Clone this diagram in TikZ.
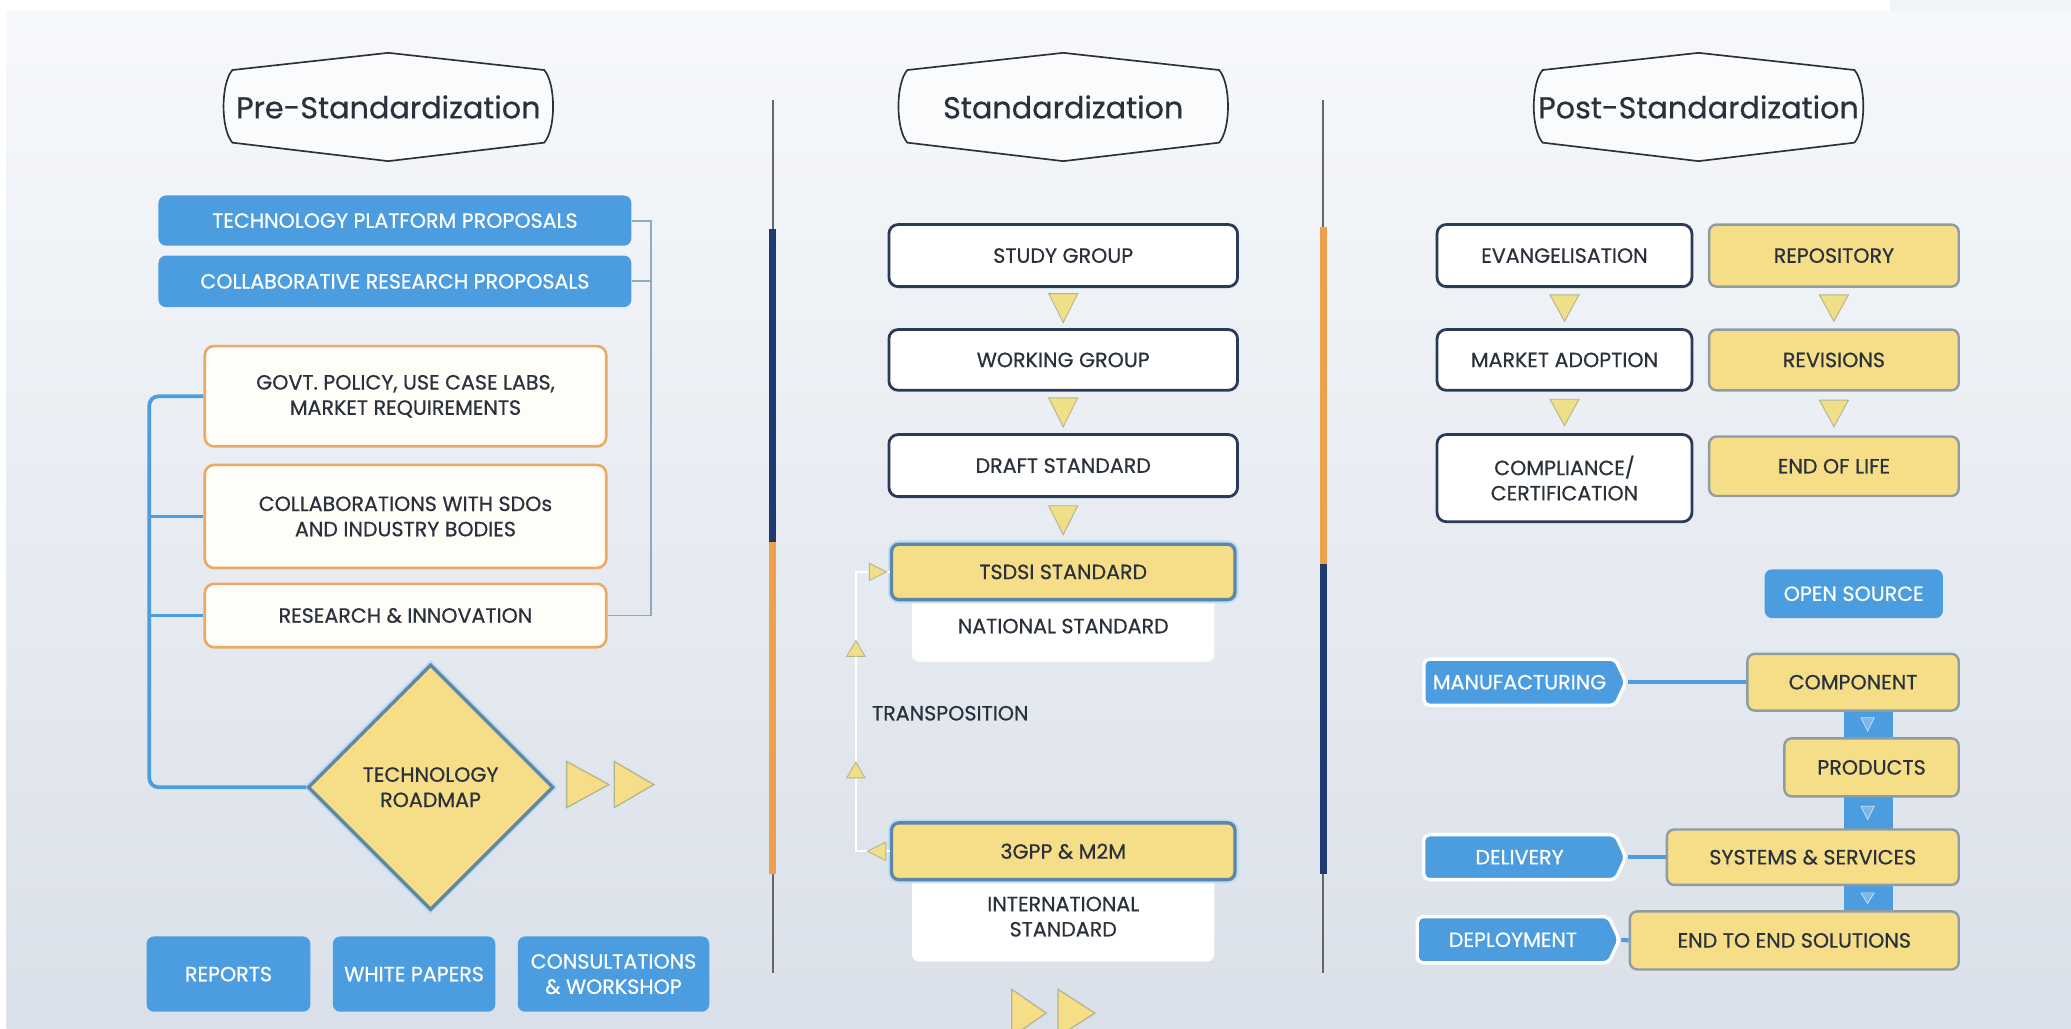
\documentclass[tikz,border=0pt]{standalone}
\usepackage{fontspec}
\setmainfont{Poppins}[FakeBold=0.6]
\usetikzlibrary{calc,shapes.geometric,shapes.symbols}
\definecolor{bgtop}{HTML}{F6F8FB}
\definecolor{bgbot}{HTML}{DAE0E9}
\definecolor{boxblue}{HTML}{4B9DE0}
\definecolor{boxyellow}{HTML}{F6DD88}
\definecolor{navy}{HTML}{1E3A70}
\definecolor{bordnavy}{HTML}{2B3A57}
\definecolor{orangeln}{HTML}{EFA04C}
\definecolor{orangebord}{HTML}{EAA965}
\definecolor{cream}{HTML}{FFFDF8}
\definecolor{graybord}{HTML}{8E9DA2}
\definecolor{steelbord}{HTML}{5C87A9}
\definecolor{glow}{HTML}{BFDDF3}
\definecolor{txt}{HTML}{2A313C}
\definecolor{triyellow}{HTML}{EEDF88}
\definecolor{triedge}{HTML}{B5B58E}
\definecolor{faintblue}{HTML}{7DB6E8}
\def\pu{0.025cm}
\newcommand\boxfont{\fontsize{11.1}{13.6}\selectfont}
\newcommand\headfont{\fontsize{16.3}{19}\selectfont}
% little triangles: style, centre, half width, half height
\newcommand\tridown[4]{\filldraw[#1] ($(#2)+(-#3,-#4)$) -- ($(#2)+(#3,-#4)$) -- ($(#2)+(0,#4)$) -- cycle;}
\newcommand\triup[4]{\filldraw[#1] ($(#2)+(-#3,#4)$) -- ($(#2)+(#3,#4)$) -- ($(#2)+(0,-#4)$) -- cycle;}
\newcommand\triright[4]{\filldraw[#1] ($(#2)+(-#3,-#4)$) -- ($(#2)+(#3,0)$) -- ($(#2)+(-#3,#4)$) -- cycle;}
\newcommand\trileft[4]{\filldraw[#1] ($(#2)+(#3,-#4)$) -- ($(#2)+(-#3,0)$) -- ($(#2)+(#3,#4)$) -- cycle;}
\newcommand\headshape[1]{\filldraw[headline] ($(#1)+(-118,-28)$) -- ($(#1)+(0,-41)$) -- ($(#1)+(118,-28)$)
  .. controls ($(#1)+(127,-18)$) and ($(#1)+(127,17)$) .. ($(#1)+(118,27)$) -- ($(#1)+(0,41)$) -- ($(#1)+(-118,27)$)
  .. controls ($(#1)+(-127,17)$) and ($(#1)+(-127,-18)$) .. cycle;}

\begin{document}
\begin{tikzpicture}[x=\pu, y=-\pu,
    every node/.style={font=\boxfont, text=txt, inner sep=0pt},
    wh/.style 2 args={minimum width=#1*\pu, minimum height=#2*\pu},
    bluebox/.style={rectangle, rounded corners=4pt, fill=boxblue, text=white, align=center},
    navybox/.style={rectangle, rounded corners=5pt, draw=bordnavy, line width=1.5pt, fill=white, align=center},
    orangebox/.style={rectangle, rounded corners=5pt, draw=orangebord, line width=1.4pt, fill=cream, align=center},
    yellowbox/.style={rectangle, rounded corners=4pt, draw=graybord, line width=1.3pt, fill=boxyellow},
    steelbox/.style={rectangle, rounded corners=4pt, draw=steelbord, line width=1.8pt, fill=boxyellow, preaction={draw=glow, line width=4pt}},
    plainbox/.style={rectangle, rounded corners=4pt, fill=white, align=center},
    tagbox/.style={signal, signal to=east, signal pointer angle=130, rounded corners=3pt, fill=boxblue, draw=white, line width=1.8pt, text=white},
    headline/.style={draw=txt, line width=0.9pt, fill=white, fill opacity=0.6, draw opacity=1},
    thinline/.style={draw=black!60, line width=1.1pt},
    navyline/.style={draw=navy, line width=3.6pt},
    orangeline/.style={draw=orangeln, line width=3.6pt},
    brleft/.style={draw=boxblue, line width=2pt, rounded corners=5pt},
    brright/.style={draw=steelbord!70, line width=1pt},
    transline/.style={draw=white, line width=0.9pt},
    tagline/.style={draw=boxblue, line width=2.2pt},
    tri/.style={fill=triyellow, draw=triedge, line width=0.5pt},
    playtri/.style={fill=boxyellow, draw=triedge, line width=0.7pt},
    fainttri/.style={fill=faintblue, draw=white!70!boxblue, line width=0.4pt}
  ]
  %%%%% BACKGROUND %%%%%
  \useasboundingbox (0,0) rectangle (1568,779);
  \fill[white] (0,0) rectangle (1568,779);
  \shade[top color=bgtop, bottom color=bgbot] (5,8) rectangle (1568,779);
  \fill[bgtop!80!bgbot] (1431,0) rectangle (1568,8);

  %%%%% DIVIDERS %%%%%
  \draw[thinline] (585,76) -- (585,173);
  \draw[navyline] (585,173) -- (585,410);
  \draw[orangeline] (585,410) -- (585,662);
  \draw[thinline] (585,662) -- (585,737);

  \draw[thinline] (1002,76) -- (1002,172);
  \draw[orangeline] (1002,172) -- (1002,427);
  \draw[navyline] (1002,427) -- (1002,662);
  \draw[thinline] (1002,662) -- (1002,737);

  %%%%% HEADERS %%%%%
  \coordinate (prec) at (294,81);
  \coordinate (stdc) at (805,81);
  \coordinate (postc) at (1286,81);
  \headshape{prec}
  \headshape{stdc}
  \headshape{postc}
  \node[font=\headfont] (prehead) at (prec) {Pre-Standardization};
  \node[font=\headfont] (stdhead) at (stdc) {Standardization};
  \node[font=\headfont] (posthead) at (postc) {Post-Standardization};

  %%%%% PRE-STANDARDIZATION %%%%%
  \node[bluebox, wh={358}{38}] (tpp) at (299,167) {TECHNOLOGY PLATFORM PROPOSALS};
  \node[bluebox, wh={358}{39}] (crp) at (299,213) {COLLABORATIVE RESEARCH PROPOSALS};

  \node[orangebox, wh={304}{76}] (govt) at (307,300) {GOVT. POLICY, USE CASE LABS,\\MARKET REQUIREMENTS};
  \node[orangebox, wh={304}{78}] (collab) at (307,391) {COLLABORATIONS WITH SDOs\\AND INDUSTRY BODIES};
  \node[orangebox, wh={304}{48}] (resinn) at (307,466) {RESEARCH \& INNOVATION};

  \node[diamond, draw=steelbord, line width=1.8pt, fill=boxyellow, preaction={draw=glow, line width=4pt},
        wh={186}{186}, align=center] (roadmap) at (326,596) {TECHNOLOGY\\ROADMAP};

  \coordinate (brx) at (113,0);
  \coordinate (rbx) at (493,0);
  \draw[brleft] (govt.west) -- (govt.west -| brx) |- (roadmap.west);
  \draw[brleft] (collab.west) -- (collab.west -| brx);
  \draw[brleft] (resinn.west) -- (resinn.west -| brx);
  \draw[brright] (tpp.east) -- (tpp.east -| rbx) |- (resinn.east);
  \draw[brright] (crp.east) -- (crp.east -| rbx);

  \triright{playtri}{445,594}{16}{17.5}
  \triright{playtri}{480,594}{15}{17.5}

  \node[bluebox, wh={124}{57}] (reports) at (173,737.5) {REPORTS};
  \node[bluebox, wh={123}{57}] (wpapers) at (313.5,737.5) {WHITE PAPERS};
  \node[bluebox, wh={145}{57}] (consult) at (464.5,737.5) {CONSULTATIONS\\\& WORKSHOP};

  %%%%% STANDARDIZATION %%%%%
  \node[navybox, wh={264}{47}] (study) at (805,193.5) {STUDY GROUP};
  \node[navybox, wh={264}{46}] (work) at (805,272.5) {WORKING GROUP};
  \node[navybox, wh={264}{47}] (draft) at (805,352.5) {DRAFT STANDARD};

  \node[plainbox, wh={229}{54}] (natl) at (805,474) {\raisebox{-0.35ex}{NATIONAL STANDARD}};
  \node[steelbox, wh={260}{42}] (tsdsi) at (805,433) {TSDSI STANDARD};
  \node[plainbox, wh={229}{68}] (intl) at (805,694) {INTERNATIONAL\\STANDARD};
  \node[steelbox, wh={260}{43}] (gpp) at (805,644.5) {3GPP \& M2M};

  \tridown{tri}{$(study.south)!0.5!(work.north)$}{11}{11}
  \tridown{tri}{$(work.south)!0.5!(draft.north)$}{11}{11}
  \tridown{tri}{$(draft.south)!0.5!(tsdsi.north)$}{11}{11}

  \coordinate (tx) at (648,0);
  \draw[transline] (gpp.west) -- (gpp.west -| tx) -- (tsdsi.west -| tx) -- (tsdsi.west);
  \triright{tri}{$(tsdsi.west)+(-9,0)$}{6.5}{6.5}
  \trileft{tri}{$(gpp.west)+(-10,0)$}{7}{7}
  \triup{tri}{648,491}{7}{6}
  \triup{tri}{648,583}{7}{6}
  \node[anchor=west] (transp) at (660,540) {TRANSPOSITION};

  \triright{playtri}{779,767}{13}{18}
  \triright{playtri}{815,767}{14}{18}

  %%%%% POST-STANDARDIZATION %%%%%
  \node[navybox, wh={193}{47}] (evang) at (1184.5,193.5) {EVANGELISATION};
  \node[navybox, wh={193}{46}] (madopt) at (1184.5,272.5) {MARKET ADOPTION};
  \node[navybox, wh={193}{66}] (compl) at (1184.5,362) {COMPLIANCE/\\CERTIFICATION};

  \node[yellowbox, wh={189}{47}] (repo) at (1388.5,193.5) {REPOSITORY};
  \node[yellowbox, wh={189}{46}] (revis) at (1388.5,272.5) {REVISIONS};
  \node[yellowbox, wh={189}{45}] (eol) at (1388.5,353) {END OF LIFE};

  \tridown{tri}{$(evang.south)!0.5!(madopt.north)$}{11}{10}
  \tridown{tri}{$(madopt.south)!0.5!(compl.north)$}{11}{10}
  \tridown{tri}{$(repo.south)!0.5!(revis.north)$}{11}{10}
  \tridown{tri}{$(revis.south)!0.5!(eol.north)$}{11}{10}

  \node[bluebox, wh={135}{37}] (opensrc) at (1403.5,449.5) {OPEN SOURCE};

  \fill[boxblue] (1396,530) rectangle (1433,696);

  \node[yellowbox, wh={160}{43}] (comp) at (1403,516.5) {COMPONENT};
  \node[yellowbox, wh={132}{44}] (prod) at (1417,581) {PRODUCTS};
  \node[yellowbox, wh={221}{42}] (syssrv) at (1372.5,649) {SYSTEMS \& SERVICES};
  \node[yellowbox, wh={249}{44}] (e2e) at (1358.5,712) {END TO END SOLUTIONS};

  \tridown{fainttri}{1414,548.5}{5}{5}
  \tridown{fainttri}{1414,615.5}{5}{5}
  \tridown{fainttri}{1414,680}{5}{4}

  \node[tagbox, wh={153}{35}] (manu) at (1150.5,516.5) {MANUFACTURING};
  \node[tagbox, wh={153}{34}] (deliv) at (1150.5,649) {DELIVERY};
  \node[tagbox, wh={153}{35}] (deploy) at (1145.5,711.5) {DEPLOYMENT};

  \draw[tagline] (manu.east) -- (comp.west);
  \draw[tagline] (deliv.east) -- (syssrv.west);
  \draw[tagline] (deploy.east) -- (e2e.west);
\end{tikzpicture}
\end{document}
